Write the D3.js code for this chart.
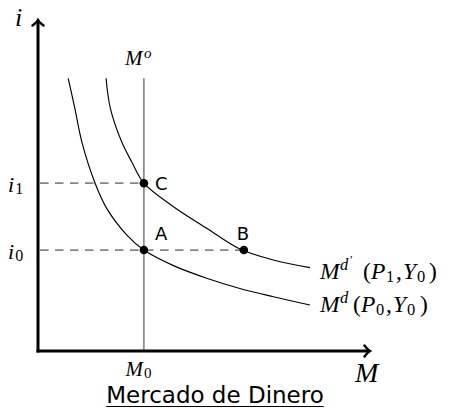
<!DOCTYPE html>
<html><head><meta charset="utf-8">
<script src="https://cdn.jsdelivr.net/npm/d3@7"></script>
<style>
html,body{margin:0;padding:0;background:#fff;}
.m{font-family:"Liberation Serif","DejaVu Serif",serif;font-style:italic;}
.r{font-family:"Liberation Serif","DejaVu Serif",serif;font-style:normal;}
.s{font-family:"DejaVu Sans",sans-serif;}
</style>
</head><body>
<svg id="c" width="450" height="408"></svg>
<script>
// ---- data (units of the diagram) ----
const M0 = 3.19;          // money supply
const i0 = 3.05;          // initial interest rate
const i1 = 5.07;          // new interest rate
const MB = 6.2;           // point B quantity
const mdX  = [0.91, 1.11, 1.32, 1.72, 2.07, 2.67, 3.19, 4.08, 5.08, 6.08, 7.09, 8.19];
const mdY  = [8.24, 7.33, 6.32, 5.07, 4.31, 3.51, 3.05, 2.58, 2.20, 1.89, 1.64, 1.39];
const mdpX = [2.05, 2.18, 2.52, 2.82, 3.19, 4.08, 5.08, 6.08, 7.09, 8.19];
const mdpY = [8.24, 7.33, 6.32, 5.72, 5.07, 4.36, 3.71, 3.08, 2.75, 2.52];
const msTop = 8.24;
const pointNames = ["A", "C", "B"];
const pointX = [M0, M0, MB];
const pointY = [i0, i1, i0];
const yTickVals = [i0, i1];
const yTickSubs = ["0", "1"];
const xTickVals = [M0];
const xTickSubs = ["0"];

const svg = d3.select("#c");
const x = d3.scaleLinear().domain([0, 10]).range([38, 370]);
const y = d3.scaleLinear().domain([0, 10]).range([351, 20]);

const defs = svg.append("defs");
defs.append("marker").attr("id","arr").attr("viewBox","-8 -7 10 14")
  .attr("refX",0).attr("refY",0).attr("markerWidth",10).attr("markerHeight",14)
  .attr("markerUnits","userSpaceOnUse").attr("orient","auto")
  .append("path").attr("d","M-5.5,-5.5 Q-2,-1 0,0 Q-2,1 -5.5,5.5")
  .attr("fill","none").attr("stroke","#000").attr("stroke-width",2.4)
  .attr("stroke-linecap","round");

// dashed guides
svg.append("line").attr("x1", x(0.06)).attr("x2", x(M0)).attr("y1", y(i1)).attr("y2", y(i1))
  .attr("stroke","#858585").attr("stroke-width",1.8).attr("stroke-dasharray","8.5,6.5");
svg.append("line").attr("x1", x(0.06)).attr("x2", x(MB)).attr("y1", y(i0)).attr("y2", y(i0))
  .attr("stroke","#858585").attr("stroke-width",1.8).attr("stroke-dasharray","8.5,6.5");

// money supply
svg.append("line").attr("x1", x(M0)).attr("x2", x(M0)).attr("y1", y(0)).attr("y2", y(msTop))
  .attr("stroke","#5a5a5a").attr("stroke-width",1.2);

// demand curves
const line = d3.line().x(d => x(d[0])).y(d => y(d[1])).curve(d3.curveCatmullRom.alpha(0.5));
svg.append("path").attr("d", line(d3.zip(mdX, mdY))).attr("fill","none").attr("stroke","#000").attr("stroke-width",1.15);
svg.append("path").attr("d", line(d3.zip(mdpX, mdpY))).attr("fill","none").attr("stroke","#000").attr("stroke-width",1.15);

// axes
const yAxis = d3.axisLeft(y).tickValues(yTickVals).tickSize(0).tickPadding(0).tickFormat("");
const gy = svg.append("g").attr("transform", `translate(${x(0)},0)`).call(yAxis);
gy.select(".domain").remove();
gy.append("line").attr("x1",0).attr("x2",0).attr("y1", y(0)+1.5).attr("y2", y(10))
  .attr("stroke","#000").attr("stroke-width",3).attr("marker-end","url(#arr)");
gy.selectAll(".tick text").each(function(d, k){
  const t = d3.select(this).attr("class","m").attr("font-size",22).attr("fill","#000")
    .attr("text-anchor","start").attr("x",-30).attr("dy",8);
  t.append("tspan").text("i");
  t.append("tspan").attr("class","r").attr("font-size",16).attr("dx",1).attr("dy",2).text(yTickSubs[k]);
});

const xAxis = d3.axisBottom(x).tickValues(xTickVals).tickSize(0).tickPadding(0).tickFormat("");
const gx = svg.append("g").attr("transform", `translate(0,${y(0)})`).call(xAxis);
gx.select(".domain").remove();
gx.append("line").attr("x1", x(0)-1.5).attr("x2", x(10)).attr("y1",0).attr("y2",0)
  .attr("stroke","#000").attr("stroke-width",3).attr("marker-end","url(#arr)");
gx.selectAll(".tick text").each(function(d, k){
  const t = d3.select(this).attr("class","m").attr("font-size",21).attr("fill","#000")
    .attr("text-anchor","start").attr("x",-19).attr("y",25).attr("dy",0);
  t.append("tspan").text("M");
  t.append("tspan").attr("class","r").attr("font-size",15).attr("dx",1).attr("dy",2).text(xTickSubs[k]);
});

// axis titles
svg.append("text").attr("class","m").attr("font-size",26).attr("x",15).attr("y",26).text("i");
svg.append("text").attr("class","m").attr("font-size",28).attr("x",355).attr("y",382).text("M");
const ms = svg.append("text").attr("class","m").attr("font-size",21).attr("x",x(M0)-19).attr("y",65);
ms.append("tspan").text("M");
ms.append("tspan").attr("font-size",15).attr("dx",1.5).attr("dy",-7).text("o");

// points
svg.selectAll("circle.p").data(pointX).join("circle").attr("class","p")
  .attr("cx", d => x(d)).attr("cy", (d,k) => y(pointY[k])).attr("r",4.3).attr("fill","#000");
const lblDx = [11, 11, -7];
const lblDy = [-10, 7, -10];
svg.selectAll("text.pl").data(pointNames).join("text").attr("class","pl s")
  .attr("font-size",18).attr("x",(d,k)=>x(pointX[k])+lblDx[k]).attr("y",(d,k)=>y(pointY[k])+lblDy[k])
  .text(d => d);

// curve labels (explicit glyph positions)
function md(yp, prime, p, xs){
  const t = svg.append("text").attr("class","m").attr("font-size",23.5).attr("y",yp);
  let k = 0;
  t.append("tspan").attr("x",xs[k++]).attr("y",yp).text("M");
  t.append("tspan").attr("x",xs[k++]).attr("y",yp-9).attr("font-size",16.5).text("d");
  if (prime) t.append("tspan").attr("class","r").attr("x",xs[k++]).attr("y",yp-15).attr("font-size",12).text("′");
  t.append("tspan").attr("class","r").attr("x",xs[k++]).attr("y",yp).text("(");
  t.append("tspan").attr("x",xs[k++]).attr("y",yp).text("P");
  t.append("tspan").attr("class","r").attr("x",xs[k++]).attr("y",yp+3).attr("font-size",16.5).text(p);
  t.append("tspan").attr("class","r").attr("x",xs[k++]).attr("y",yp).text(",");
  t.append("tspan").attr("x",xs[k++]).attr("y",yp).text("Y");
  t.append("tspan").attr("class","r").attr("x",xs[k++]).attr("y",yp+3).attr("font-size",16.5).text("0");
  t.append("tspan").attr("class","r").attr("x",xs[k++]).attr("y",yp).text(")");
}
md(279, true, "1", [320, 340, 350, 363, 371, 386, 396, 403, 417, 429]);
md(312, false, "0", [320, 340, 353, 361, 376, 386, 393, 407, 420]);

// title
const title = svg.append("text").attr("class","s").attr("font-size",23).attr("x",215).attr("y",403)
  .attr("text-anchor","middle").text("Mercado de Dinero");
const bb = title.node().getBBox();
svg.append("line").attr("x1",bb.x).attr("x2",bb.x+bb.width).attr("y1",406.5).attr("y2",406.5)
  .attr("stroke","#000").attr("stroke-width",1.1);
</script>
</body></html>
